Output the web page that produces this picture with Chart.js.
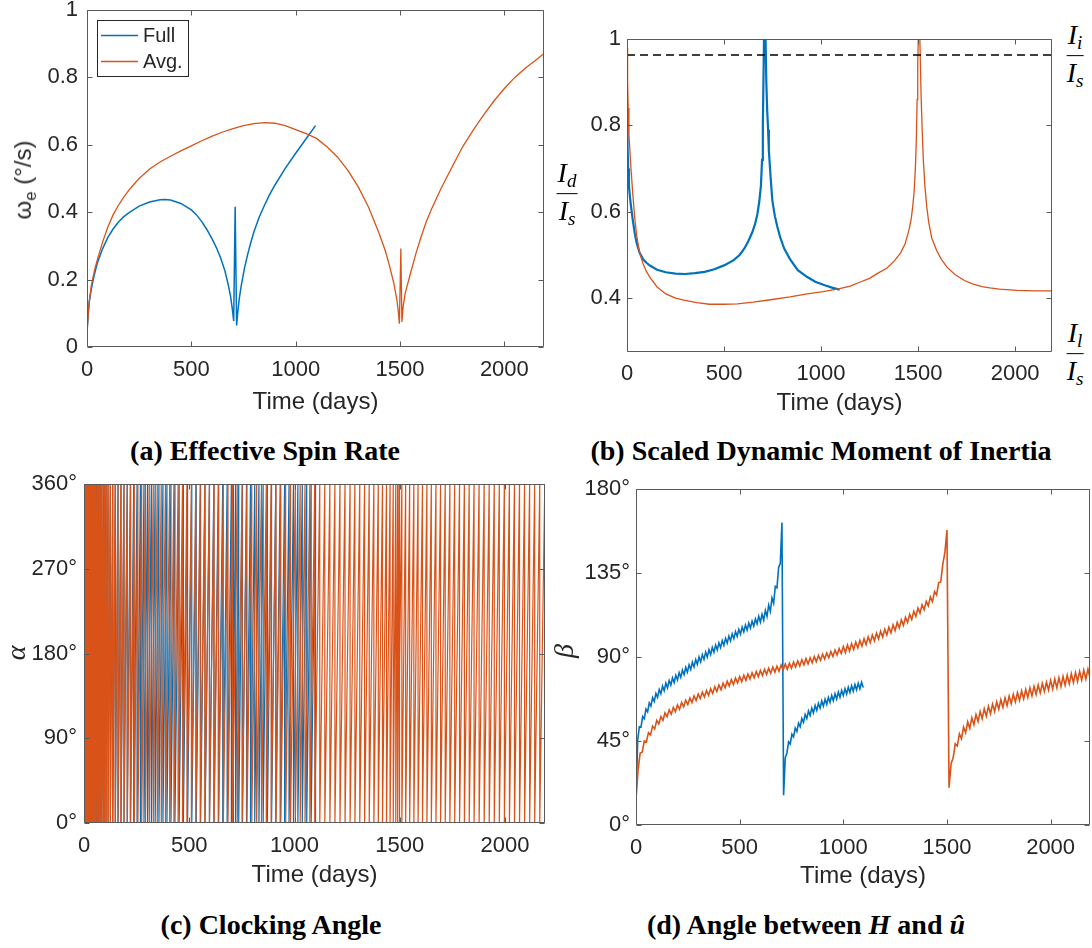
<!DOCTYPE html>
<html>
<head>
<meta charset="utf-8">
<script src="https://cdn.jsdelivr.net/npm/chart.js@4.4.1/dist/chart.umd.min.js"></script>
<style>
  body { margin: 0; background: #fff; }
  #fig { position: relative; width: 1092px; height: 948px; overflow: hidden; font-family: "Liberation Sans", Arial, sans-serif; color: #262626; }
  canvas { position: absolute; }
  .ylab { position: absolute; transform: translate(-50%, -50%) rotate(-90deg); white-space: nowrap; font-size: 24px; }
  .ylab sub { font-size: 0.7em; vertical-align: -0.3em; }
  .greek { font-family: "Liberation Serif", serif; font-style: italic; font-size: 28px; }
  .frac { position: absolute; transform: translate(-50%, -50%); font-family: "Liberation Serif", serif; font-style: italic; font-size: 28px; line-height: 1; text-align: center; color: #000; }
  .frac .n { display: block; border-bottom: 1.6px solid #000; padding: 0 1px 3px; }
  .frac .d { display: block; padding-top: 3px; }
  .frac sub { font-size: 0.68em; vertical-align: -0.28em; }
  .cap { position: absolute; transform: translate(-50%, -50%); white-space: nowrap; font-family: "Liberation Serif", serif; font-weight: bold; font-size: 28px; color: #000; }
</style>
</head>
<body>
<div id="fig">
  <canvas id="spin" width="546" height="417" style="left:0;top:0"></canvas>
  <canvas id="inertia" width="510" height="418" style="left:546px;top:0"></canvas>
  <canvas id="clock" width="546" height="420" style="left:0;top:470px"></canvas>
  <canvas id="beta" width="546" height="421" style="left:546px;top:470px"></canvas>

  <div class="ylab" style="left:25px;top:180px">ω<sub>e</sub> (°/s)</div>
  <div class="frac" style="left:567px;top:194px"><span class="n">I<sub>d</sub></span><span class="d">I<sub>s</sub></span></div>
  <div class="frac" style="left:1075px;top:56px"><span class="n">I<sub>i</sub></span><span class="d">I<sub>s</sub></span></div>
  <div class="frac" style="left:1075px;top:354px"><span class="n">I<sub>l</sub></span><span class="d">I<sub>s</sub></span></div>
  <div class="ylab greek" style="left:16px;top:653px">α</div>
  <div class="ylab greek" style="left:564px;top:651px">β</div>

  <div class="cap" style="left:265px;top:451px">(a) Effective Spin Rate</div>
  <div class="cap" style="left:821px;top:451px">(b) Scaled Dynamic Moment of Inertia</div>
  <div class="cap" style="left:271px;top:925px">(c) Clocking Angle</div>
  <div class="cap" style="left:806px;top:925px">(d) Angle between <i>H</i> and <i>û</i></div>
</div>
<script>
const BLUE = "#0072BD"
const ORANGE = "#D95319"
const INK = "#262626"

const DAY_TICKS = [0, 500, 1000, 1500, 2000]
const T_MAX = 2190

// (a) effective spin rate, deg/s
const spinFullT = [0, 5, 10, 20, 30, 40, 50, 75, 100, 125, 150, 175, 200, 250, 300, 350, 375, 400, 450, 500, 525, 550, 575, 600, 620, 640, 660, 675, 688, 697, 703, 710, 717, 722, 730, 740, 755, 770, 785, 800, 825, 850, 875, 900, 950, 1000, 1050, 1095]
const spinFull  = [0.045, 0.09, 0.13, 0.17, 0.2, 0.227, 0.25, 0.292, 0.325, 0.35, 0.37, 0.386, 0.398, 0.418, 0.43, 0.437, 0.438, 0.436, 0.426, 0.407, 0.392, 0.372, 0.348, 0.32, 0.295, 0.265, 0.228, 0.19, 0.15, 0.11, 0.077, 0.416, 0.064, 0.1, 0.145, 0.185, 0.235, 0.275, 0.31, 0.342, 0.385, 0.42, 0.452, 0.48, 0.53, 0.575, 0.618, 0.657]
const spinAvgT  = [0, 5, 10, 20, 30, 40, 50, 75, 100, 125, 150, 175, 200, 225, 250, 300, 350, 400, 450, 500, 550, 600, 650, 700, 750, 800, 850, 900, 950, 1000, 1050, 1100, 1150, 1200, 1250, 1300, 1350, 1400, 1430, 1450, 1470, 1485, 1492, 1497, 1504, 1509, 1515, 1525, 1550, 1575, 1600, 1625, 1650, 1700, 1750, 1800, 1850, 1900, 1950, 2000, 2050, 2100, 2150, 2190]
const spinAvg   = [0.045, 0.09, 0.13, 0.18, 0.21, 0.238, 0.26, 0.312, 0.356, 0.392, 0.42, 0.444, 0.465, 0.483, 0.5, 0.528, 0.549, 0.566, 0.582, 0.597, 0.612, 0.626, 0.638, 0.648, 0.657, 0.663, 0.666, 0.664, 0.657, 0.645, 0.633, 0.619, 0.594, 0.564, 0.524, 0.475, 0.414, 0.337, 0.285, 0.24, 0.19, 0.14, 0.105, 0.069, 0.292, 0.074, 0.12, 0.16, 0.218, 0.275, 0.325, 0.37, 0.408, 0.475, 0.535, 0.594, 0.643, 0.688, 0.73, 0.767, 0.8, 0.827, 0.851, 0.871]
const SPIN_TICKS = [0, 0.2, 0.4, 0.6, 0.8, 1]

// (b) scaled dynamic moment of inertia
const inertiaFullT = [0, 3, 6, 10, 15, 20, 30, 40, 50, 65, 83, 100, 120, 155, 200, 250, 299, 350, 400, 450, 500, 550, 580, 605, 625, 645, 660, 672, 682, 690, 696, 700, 703, 706, 710, 714, 718, 722, 727, 731, 740, 749, 762, 775, 790, 810, 839, 880, 929, 970, 1019, 1060, 1096]
const inertiaFull  = [0.82, 0.75, 0.7, 0.66, 0.635, 0.615, 0.58, 0.55, 0.527, 0.505, 0.49, 0.482, 0.475, 0.466, 0.46, 0.457, 0.456, 0.458, 0.461, 0.467, 0.476, 0.488, 0.5, 0.515, 0.532, 0.552, 0.572, 0.595, 0.625, 0.66, 0.72, 0.8, 0.9, 1.0, 1.06, 1.0, 0.9, 0.84, 0.79, 0.742, 0.68, 0.626, 0.59, 0.565, 0.54, 0.515, 0.491, 0.465, 0.449, 0.438, 0.43, 0.424, 0.42]
const inertiaAvgT  = [0, 3, 6, 10, 15, 20, 30, 40, 50, 65, 83, 100, 120, 155, 200, 250, 299, 360, 425, 500, 569, 650, 749, 840, 929, 1010, 1096, 1150, 1199, 1250, 1289, 1340, 1379, 1410, 1433, 1445, 1455, 1465, 1473, 1480, 1486, 1491, 1495, 1498, 1501, 1505, 1509, 1512, 1516, 1521, 1527, 1535, 1545, 1555, 1570, 1595, 1620, 1649, 1690, 1739, 1780, 1829, 1870, 1919, 2009, 2100, 2190]
const inertiaAvg   = [0.98, 0.9, 0.84, 0.78, 0.74, 0.703, 0.64, 0.585, 0.545, 0.505, 0.48, 0.462, 0.447, 0.426, 0.41, 0.4, 0.395, 0.39, 0.386, 0.386, 0.387, 0.391, 0.397, 0.403, 0.41, 0.415, 0.422, 0.428, 0.437, 0.446, 0.457, 0.47, 0.487, 0.505, 0.526, 0.545, 0.562, 0.585, 0.615, 0.65, 0.7, 0.77, 0.86, 0.94, 1.0, 1.06, 1.0, 0.94, 0.86, 0.79, 0.72, 0.66, 0.61, 0.575, 0.54, 0.511, 0.49, 0.472, 0.455, 0.441, 0.433, 0.427, 0.424, 0.421, 0.418, 0.417, 0.417]
const INERTIA_MIN = 0.2755
const INTERMEDIATE_RATIO = 0.963
const INERTIA_TICKS = [0.4, 0.6, 0.8, 1]

// (c) clocking angle: days at which alpha wraps back to 0
const clockWrapsFull = [0, 3, 6, 9, 12, 16, 20, 24, 29, 34, 40, 46, 53, 60, 68, 76, 85, 94, 104, 114, 125, 137, 149, 162, 176, 190, 205, 220, 236, 252, 268, 285, 302, 320, 338, 356, 375, 394, 413, 432, 452, 472, 492, 512, 533, 554, 575, 596, 617, 638, 659, 680, 700, 708, 720, 735, 753, 772, 791, 811, 831, 851, 871, 891, 911, 932, 953, 974, 995, 1016, 1037, 1058, 1079, 1100]
const clockWrapsAvg  = [0, 2, 4, 6, 8, 10, 12, 14, 16, 19, 22, 25, 28, 31, 34, 37, 41, 45, 49, 53, 57, 62, 67, 72, 78, 84, 91, 98, 106, 115, 125, 136, 148, 161, 175, 190, 206, 222, 239, 256, 274, 292, 310, 329, 348, 367, 387, 407, 427, 447, 468, 489, 510, 531, 552, 574, 596, 618, 640, 662, 684, 706, 728, 751, 774, 797, 820, 843, 866, 889, 912, 935, 958, 981, 1004, 1027, 1050, 1073, 1096, 1120, 1144, 1168, 1192, 1216, 1240, 1264, 1287, 1310, 1333, 1355, 1377, 1398, 1418, 1437, 1454, 1469, 1481, 1490, 1497, 1510, 1528, 1547, 1567, 1587, 1608, 1629, 1650, 1672, 1694, 1716, 1738, 1761, 1784, 1807, 1830, 1853, 1877, 1901, 1925, 1949, 1973, 1997, 2021, 2045, 2069, 2093, 2117, 2141, 2165, 2189]
const clockJumpFull = [[710, 107], [711, 91]]
const clockJumpAvg  = [[1499, 230], [1501, 160]]
const CLOCK_TICKS = [0, 90, 180, 270, 360]

// (d) angle between H and u, sampled every BETA_STEP days
const BETA_STEP_FULL = 8
const betaFull = [12, 45.4, 52.6, 52.4, 58.1, 56.9, 62.1, 60.6, 65.4, 63.7, 68.2, 66.2, 70.5, 68.4, 72.6, 70.3, 74.4, 72, 76, 73.5, 77.4, 74.9, 78.8, 76.3, 80.2, 77.7, 81.6, 79.1, 83, 80.5, 84.4, 81.9, 85.8, 83.3, 87.2, 84.7, 88.6, 86.1, 90, 87.4, 91.3, 88.7, 92.6, 90, 93.9, 91.3, 95.1, 92.5, 96.4, 93.8, 97.6, 95, 98.8, 96.2, 100, 97.4, 101.2, 98.6, 102.4, 99.8, 103.6, 101, 104.8, 102.2, 106, 103.4, 107.1, 104.4, 108.2, 105.5, 109.2, 106.6, 110.4, 107.8, 111.8, 108.7, 112.9, 109.8, 115, 111.8, 117.8, 114.5, 121.6, 118.8, 127.8, 127, 138, 140, 162, 16, 36, 38.6, 44.6, 43.4, 48.6, 47.2, 51.9, 50.1, 54.6, 52.7, 57.1, 55, 59.2, 57, 61.1, 58.7, 62.6, 60.1, 64, 61.4, 65.2, 62.6, 66.4, 63.7, 67.4, 64.7, 68.4, 65.7, 69.4, 66.6, 70.3, 67.5, 71.2, 68.4, 72.1, 69.4, 73, 70.2, 73.8, 71, 74.6, 71.7, 75.3, 72.4, 75.9, 73, 76.5, 73.6]
const BETA_STEP_AVG = 10
const betaAvg = [14, 29.5, 38.5, 39, 45, 44.5, 49.5, 48.3, 53, 51.5, 56, 54.1, 58.1, 56.1, 60.1, 58, 61.7, 59.4, 63, 60.7, 64.3, 62, 65.6, 63.3, 66.9, 64.5, 68, 65.6, 69.1, 66.7, 70.2, 67.7, 71.1, 68.6, 72, 69.5, 73, 70.5, 74, 71.5, 75, 72.5, 76, 73.5, 77, 74.5, 77.9, 75.3, 78.7, 76.1, 79.5, 76.8, 80.2, 77.5, 80.9, 78.2, 81.5, 78.9, 82.2, 79.5, 82.8, 80.1, 83.4, 80.7, 84, 81.3, 84.6, 81.9, 85.1, 82.4, 85.7, 83, 86.2, 83.5, 86.7, 84, 87.3, 84.6, 87.9, 85.2, 88.5, 85.8, 89.1, 86.3, 89.6, 86.9, 90.2, 87.5, 90.8, 88.2, 91.5, 88.9, 92.2, 89.6, 92.9, 90.3, 93.7, 91.1, 94.5, 91.9, 95.6, 92.4, 96.4, 93.2, 97.2, 94, 98, 94.9, 98.9, 95.8, 99.8, 96.7, 100.8, 97.7, 101.8, 98.7, 102.8, 99.7, 103.8, 100.7, 104.8, 101.8, 106, 103, 107.2, 104.2, 108.5, 105.6, 109.9, 107, 111.3, 108.5, 112.9, 110.1, 114.5, 111.7, 116.2, 113.5, 118, 115.3, 119.8, 117.4, 122.2, 119.7, 125, 123.2, 129.8, 130.2, 139.8, 146, 158, 20, 33, 36, 43.5, 42.3, 48.8, 46.2, 52.5, 49.4, 55.3, 51.8, 57.4, 53.7, 59.2, 55.5, 60.8, 56.9, 62.2, 58.3, 63.6, 59.6, 64.8, 60.8, 66, 62, 67.1, 63, 68.1, 64, 69.1, 65, 70, 65.9, 70.9, 66.8, 71.8, 67.6, 72.6, 68.4, 73.4, 69.2, 74.2, 70, 75, 70.8, 75.8, 71.6, 76.5, 72.3, 77.5, 72.8, 78.2, 73.5, 78.9, 74.2, 79.6, 74.9, 80.3, 75.6, 81, 76.3, 81.6, 76.9, 82.3, 77.6, 82.9, 78.2, 83.5, 78.8]
const BETA_TICKS = [0, 45, 90, 135, 180]

const AXIS_FONT  = { family: '"Liberation Sans", Arial, sans-serif', size: 22 }
const TITLE_FONT = { family: '"Liberation Sans", Arial, sans-serif', size: 24 }

const pairs = (ts, vs) => ts.map((t, i) => ({ x: t, y: vs[i] }))
const sampled = (step, vs) => vs.map((v, i) => ({ x: i * step, y: v }))

// wrapped angle: climbs 0 -> 360 between wraps, then drops straight back
function wrapped(wraps, jumps) {
  const pts = []
  wraps.forEach((t, i) => {
    if (i > 0) pts.push({ x: t, y: 360 })
    pts.push({ x: t, y: 0 })
  })
  return pts.concat(jumps.map(([x, y]) => ({ x, y }))).sort((a, b) => a.x - b.x)
}

// box with inward ticks on all four sides, like the MATLAB axes
const frame = {
  id: "frame",
  afterDatasetsDraw(chart, args, opts) {
    const { ctx, chartArea: a, scales: { x, y } } = chart
    const L = Math.round(a.left) + 0.5, R = Math.round(a.right) - 0.5
    const T = Math.round(a.top) + 0.5,  B = Math.round(a.bottom) - 0.5
    const tick = 5
    ctx.save()
    ctx.strokeStyle = "#5a5a5a"
    ctx.lineWidth = 1
    ctx.beginPath()
    ctx.rect(L, T, R - L, B - T)
    x.ticks.forEach(t => {
      const p = Math.round(x.getPixelForValue(t.value)) + 0.5
      ctx.moveTo(p, B); ctx.lineTo(p, B - tick)
      ctx.moveTo(p, T); ctx.lineTo(p, T + tick)
    })
    y.ticks.forEach(t => {
      const p = Math.round(y.getPixelForValue(t.value)) + 0.5
      ctx.moveTo(L, p); ctx.lineTo(L + tick, p)
      ctx.moveTo(R, p); ctx.lineTo(R - tick, p)
    })
    ctx.stroke()

    if (opts.legend) {
      const lx = Math.round(a.left) + 10, ly = Math.round(a.top) + 10
      ctx.fillStyle = "#fff"
      ctx.fillRect(lx, ly, 91, 56)
      ctx.strokeStyle = INK
      ctx.strokeRect(lx + 0.5, ly + 0.5, 91, 56)
      ctx.font = '20px "Liberation Sans", Arial, sans-serif'
      ctx.textBaseline = "middle"
      chart.data.datasets.filter(d => d.label).forEach((d, i) => {
        const yy = ly + 15.5 + i * 26
        ctx.strokeStyle = d.borderColor
        ctx.lineWidth = 1.5
        ctx.beginPath(); ctx.moveTo(lx + 4, yy); ctx.lineTo(lx + 41, yy); ctx.stroke()
        ctx.fillStyle = INK
        ctx.fillText(d.label, lx + 46, yy + 1)
      })
    }
    ctx.restore()
  }
}

function makePanel(id, p) {
  return new Chart(document.getElementById(id), {
    type: "line",
    data: { datasets: p.datasets },
    options: {
      responsive: false,
      animation: false,
      devicePixelRatio: 1,
      events: [],
      layout: { padding: { top: p.padTop, right: p.padRight, left: 0, bottom: 0 } },
      elements: { point: { radius: 0 }, line: { tension: 0, borderWidth: 1.5, fill: false } },
      plugins: {
        legend:  { display: false },
        tooltip: { enabled: false },
        frame:   { legend: !!p.legend }
      },
      scales: {
        x: {
          type: "linear", min: 0, max: T_MAX,
          grid:   { display: false, drawTicks: false },
          border: { display: false },
          ticks:  { font: AXIS_FONT, color: INK, padding: p.xPad, maxRotation: 0, autoSkip: false, callback: v => String(v) },
          title:  { display: true, text: "Time (days)", font: TITLE_FONT, color: INK, padding: 0 },
          afterBuildTicks: s => { s.ticks = DAY_TICKS.map(v => ({ value: v })) },
          afterFit: s => { s.height = p.xHeight; s.paddingLeft = 0; s.paddingRight = 0 }
        },
        y: {
          type: "linear", min: p.yMin, max: p.yMax,
          grid:   { display: false, drawTicks: false },
          border: { display: false },
          ticks:  { font: AXIS_FONT, color: INK, padding: p.yPad, autoSkip: false, callback: p.yFmt },
          afterBuildTicks: s => { s.ticks = p.yTicks.map(v => ({ value: v })) },
          afterFit: s => { s.width = p.yWidth; s.paddingTop = 0; s.paddingBottom = 0 }
        }
      }
    },
    plugins: [frame]
  })
}

makePanel("spin", {
  padTop: 10, padRight: 2, yWidth: 87, xHeight: 70, xPad: 10, yPad: 9,
  yMin: 0, yMax: 1, yTicks: SPIN_TICKS, yFmt: v => String(v), legend: true,
  datasets: [
    { label: "Full", data: pairs(spinFullT, spinFull), borderColor: BLUE, borderWidth: 1.5, order: 1 },
    { label: "Avg.", data: pairs(spinAvgT, spinAvg), borderColor: ORANGE, borderWidth: 1.3, order: 0 }
  ]
})

makePanel("inertia", {
  padTop: 39, padRight: 4, yWidth: 81, xHeight: 66, xPad: 9, yPad: 6,
  yMin: INERTIA_MIN, yMax: 1, yTicks: INERTIA_TICKS, yFmt: v => String(v),
  datasets: [
    { data: [{ x: 0, y: INTERMEDIATE_RATIO }, { x: T_MAX, y: INTERMEDIATE_RATIO }], borderColor: "#000", borderWidth: 1.3, borderDash: [8, 5], order: 0 },
    { data: pairs(inertiaAvgT, inertiaAvg), borderColor: ORANGE, borderWidth: 1.3, order: 1 },
    { data: pairs(inertiaFullT, inertiaFull), borderColor: BLUE, borderWidth: 2.2, order: 2 }
  ]
})

makePanel("clock", {
  padTop: 14, padRight: 1, yWidth: 84, xHeight: 67, xPad: 10, yPad: 7,
  yMin: 0, yMax: 360, yTicks: CLOCK_TICKS, yFmt: v => v + "°",
  datasets: [
    { data: wrapped(clockWrapsAvg, clockJumpAvg), borderColor: ORANGE, borderWidth: 1.2, order: 0 },
    { data: wrapped(clockWrapsFull, clockJumpFull), borderColor: BLUE, borderWidth: 1.2, order: 1 }
  ]
})

makePanel("beta", {
  padTop: 19, padRight: 2, yWidth: 90, xHeight: 66, xPad: 10, yPad: 6,
  yMin: 0, yMax: 180, yTicks: BETA_TICKS, yFmt: v => v + "°",
  datasets: [
    { data: sampled(BETA_STEP_AVG, betaAvg), borderColor: ORANGE, borderWidth: 1.6, order: 0 },
    { data: sampled(BETA_STEP_FULL, betaFull), borderColor: BLUE, borderWidth: 1.6, order: 1 }
  ]
})
</script>
</body>
</html>
